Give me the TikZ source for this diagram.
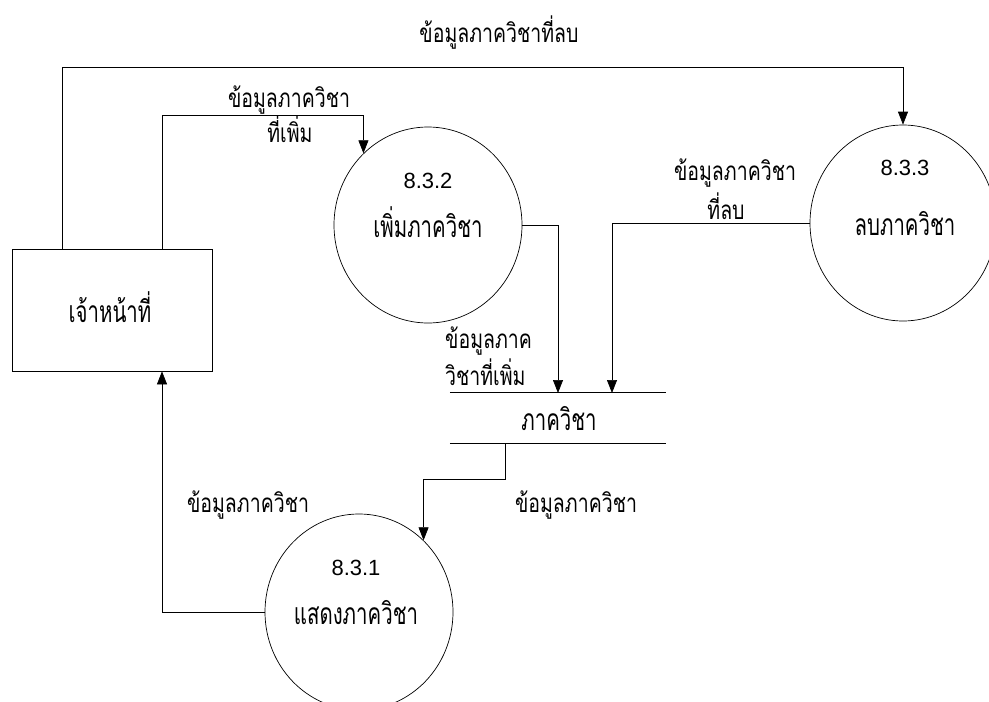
\documentclass[tikz,border=0pt]{standalone}
\usepackage{fontspec}
\setmainfont{Liberation Sans}
\newfontfamily\thai[Script=Thai, FakeStretch=0.75]{Loma}
\newfontfamily\thaiN[Script=Thai, FakeStretch=0.68]{Loma}
\usetikzlibrary{arrows.meta,shapes.geometric}
\begin{document}
\begin{tikzpicture}[x=1pt,y=-1pt,
  flow/.style={draw, line width=0.7pt, -{Triangle[length=13pt,width=10pt]}},
  edge/.style={draw, line width=0.7pt},
  proc/.style={ellipse, draw, line width=0.7pt, minimum width=188pt, minimum height=196pt, inner sep=0pt},
  ent/.style={rectangle, draw, line width=0.7pt, minimum width=200pt, minimum height=122pt, inner sep=0pt},
  store/.style={rectangle, minimum width=216pt, minimum height=50pt, inner sep=0pt},
  num/.style={anchor=base, font=\fontsize{22}{26}\selectfont, inner sep=0pt},
  ptext/.style={anchor=base, font=\thaiN\fontsize{30}{33}\selectfont, inner sep=0pt},
  lab/.style={anchor=base, font=\thai\fontsize{26}{29}\selectfont, inner sep=0pt},
]
\useasboundingbox (0,0) rectangle (989,702);
\fill[white] (0,0) rectangle (989,702);

% entity
\node[ent] (staff) at (112,310) {};
\node[ptext] (staffT) at (110,322) {เจ้าหน้าที่};

% processes
\node[proc] (p832) at (428,225) {};
\node[num] (n832) at (428,188) {8.3.2};
\node[ptext] (t832) at (428,237) {เพิ่มภาควิชา};

\node[proc, minimum width=186pt] (p833) at (903,223) {};
\node[num] (n833) at (905,175) {8.3.3};
\node[ptext] (t833) at (905,235) {ลบภาควิชา};

\node[proc] (p831) at (359,612) {};
\node[num] (n831) at (356,575) {8.3.1};
\node[ptext] (t831) at (356,624) {แสดงภาควิชา};

% data store
\node[store] (ds) at (558,418) {};
\draw[edge] (ds.north west) -- (ds.north east);
\draw[edge] (ds.south west) -- (ds.south east);
\node[ptext] (dsT) at (559,430) {ภาควิชา};

% connectors
\coordinate (t1) at (62,67);
\draw[flow] (staff.north -| t1) -- (t1) -| (p833.north);
\coordinate (t2) at (162,115);
\draw[flow] (staff.north -| t2) -- (t2) -| (p832.132);
\coordinate (s1) at (558,393);
\draw[flow] (p832.east) -| (s1);
\coordinate (s2) at (612,393);
\draw[flow] (p833.west) -| (s2);
\coordinate (r1) at (505,479);
\draw[flow] (ds.south -| r1) -- (r1) -| (p831.48);
\coordinate (b1) at (162,612);
\draw[flow] (p831.west) -- (p831.west -| b1) -- (staff.south -| b1);

% labels
\node[lab] (l1) at (499,42) {ข้อมูลภาควิชาที่ลบ};
\node[lab] (l2a) at (289,107) {ข้อมูลภาควิชา};
\node[lab] (l2b) at (290,142) {ที่เพิ่ม};
\node[lab] (l3a) at (735,180) {ข้อมูลภาควิชา};
\node[lab] (l3b) at (726,219) {ที่ลบ};
\node[lab, anchor=base west] (l4a) at (445,348) {ข้อมูลภาค};
\node[lab, anchor=base west] (l4b) at (445,385) {วิชาที่เพิ่ม};
\node[lab] (l5) at (248,512) {ข้อมูลภาควิชา};
\node[lab] (l6) at (576,512) {ข้อมูลภาควิชา};
\end{tikzpicture}
\end{document}
